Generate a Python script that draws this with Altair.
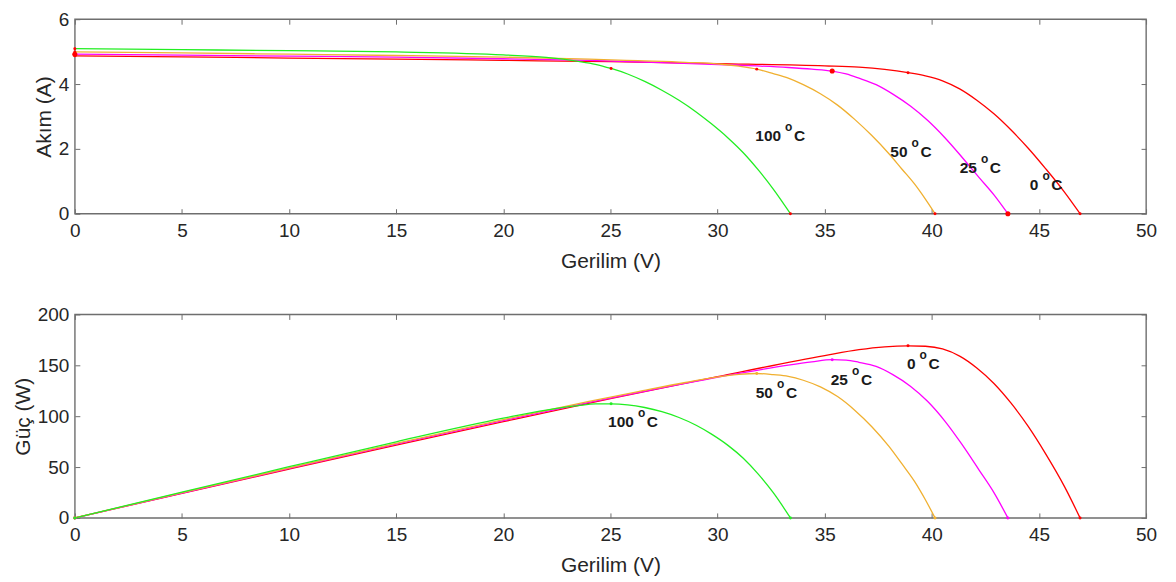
import altair as alt
import pandas as pd

# ---- data (I-V curves at four temperatures) ----
SERIES = ["0 °C", "25 °C", "50 °C", "100 °C"]
COLORS = ["#ff0000", "#ff00ff", "#f0b030", "#22ee22"]
NUMBERS = ["0", "25", "50", "100"]

V_0C = [0, 5, 10, 15, 20, 25, 30, 35, 36.6, 37.8, 38.89, 39.7, 40.5, 41.3, 42.1, 42.9, 43.7, 44.5, 45.3, 46.2, 46.92]
I_0C = [4.87, 4.84, 4.80, 4.77, 4.73, 4.69, 4.63, 4.56, 4.52, 4.45, 4.35, 4.25, 4.10, 3.85, 3.50, 3.08, 2.58, 2.02, 1.40, 0.66, 0.0]

V_25C = [0, 5, 10, 15, 20, 24, 27, 31, 33.3, 34.4, 35.35, 36.0, 36.6, 37.4, 38.2, 39.0, 39.8, 40.6, 41.4, 42.2, 42.9, 43.55]
I_25C = [4.92, 4.89, 4.86, 4.83, 4.78, 4.73, 4.67, 4.58, 4.51, 4.46, 4.40, 4.31, 4.18, 3.98, 3.68, 3.32, 2.88, 2.35, 1.75, 1.12, 0.58, 0.0]

V_50C = [0, 5, 10, 15, 20, 24, 26.3, 28.5, 30.2, 31.0, 31.83, 32.6, 33.3, 34.0, 34.8, 35.6, 36.4, 37.2, 38.0, 38.6, 39.2, 39.7, 40.15]
I_50C = [4.99, 4.96, 4.92, 4.88, 4.83, 4.77, 4.72, 4.67, 4.61, 4.55, 4.46, 4.32, 4.18, 3.98, 3.70, 3.35, 2.91, 2.41, 1.85, 1.38, 0.91, 0.45, 0.0]

V_100C = [0, 5, 10, 15, 20, 22, 23.5, 24.3, 25.03, 25.8, 26.6, 27.4, 28.2, 29.0, 29.7, 30.5, 31.2, 31.9, 32.6, 33.4]
I_100C = [5.09, 5.06, 5.03, 4.99, 4.90, 4.82, 4.70, 4.61, 4.48, 4.31, 4.08, 3.81, 3.50, 3.14, 2.78, 2.33, 1.88, 1.35, 0.76, 0.0]

# maximum power points, open-circuit voltages, short-circuit currents
MPP_V = [38.89, 35.35, 31.83, 25.03]
MPP_I = [4.35, 4.40, 4.46, 4.48]
VOC = [46.92, 43.55, 40.15, 33.4]
ISC = [4.87, 4.92, 4.99, 5.09]

# label anchors (data units, left edge of the "C"): top panel (V, I), bottom panel (V, P)
LAB_TOP_V = [45.58, 42.71, 39.47, 33.57]
LAB_TOP_I = [0.89, 1.40, 1.89, 2.39]
LAB_BOT_V = [39.85, 36.69, 33.19, 26.70]
LAB_BOT_P = [151, 136, 123, 94]

X_TICKS = [0, 5, 10, 15, 20, 25, 30, 35, 40, 45, 50]
I_TICKS = [0, 2, 4, 6]
P_TICKS = [0, 50, 100, 150, 200]

# ---- tables ----
rows = []
for name, vs, cs in zip(SERIES, [V_0C, V_25C, V_50C, V_100C], [I_0C, I_25C, I_50C, I_100C]):
    for v, c in zip(vs, cs):
        rows.append({"T": name, "V": v, "I": c})
curves = pd.DataFrame(rows)

prow = []
for k, name in enumerate(SERIES):
    prow.append({"T": name, "V": MPP_V[k], "I": MPP_I[k]})
    prow.append({"T": name, "V": VOC[k], "I": 0.0})
    prow.append({"T": name, "V": 0.0, "I": ISC[k]})
points = pd.DataFrame(prow)

labs = pd.DataFrame({"T": SERIES, "num": NUMBERS,
                     "VT": LAB_TOP_V, "IT": LAB_TOP_I,
                     "VB": LAB_BOT_V, "PB": LAB_BOT_P})

FONT = "Liberation Sans"
FRAME = "#6e6e6e"
W = 1074

color_scale = alt.Scale(domain=SERIES, range=COLORS)
xs = alt.Scale(domain=[0, 50], nice=False, zero=False)


def panel(ycol, ydom, yticks, ytitle, pts_mode, lab_x, lab_y, calc, H):
    ys = alt.Scale(domain=ydom, nice=False, zero=False)
    base = alt.Chart(curves)
    pbase = alt.Chart(points)
    if calc:
        base = base.transform_calculate(P="datum.V * datum.I")
        pbase = pbase.transform_calculate(P="datum.V * datum.I")

    main_x = alt.Axis(values=X_TICKS, ticks=False, tickSize=0, domain=False, grid=False,
                      labelFlush=False, labelPadding=8, title="Gerilim (V)", titlePadding=10,
                      format="d")
    main_y = alt.Axis(values=yticks, ticks=False, tickSize=0, domain=False, grid=False,
                      labelFlush=False, labelPadding=6, title=ytitle, titlePadding=4,
                      format="d")
    lines = base.mark_line(strokeWidth=1.3, interpolate="monotone").encode(
        x=alt.X("V:Q", scale=xs, axis=main_x),
        y=alt.Y(f"{ycol}:Q", scale=ys, axis=main_y),
        color=alt.Color("T:N", scale=color_scale, legend=None),
        order=alt.Order("V:Q"),
    )

    tk = dict(labels=False, domain=False, grid=False, ticks=True, tickSize=5,
              tickColor=FRAME, tickWidth=1, title=None)
    t1 = base.mark_point(opacity=0).encode(
        x=alt.X("V:Q", scale=xs, axis=alt.Axis(orient="top", offset=-H, values=X_TICKS, **tk)),
        y=alt.Y(f"{ycol}:Q", scale=ys, axis=alt.Axis(orient="right", offset=-W, values=yticks, **tk)),
    )
    t2 = base.mark_point(opacity=0).encode(
        x=alt.X("V:Q", scale=xs, axis=alt.Axis(orient="bottom", offset=-H, values=X_TICKS, **tk)),
        y=alt.Y(f"{ycol}:Q", scale=ys, axis=alt.Axis(orient="left", offset=-W, values=yticks, **tk)),
    )

    if pts_mode == "top":
        dots = pbase.mark_circle(opacity=1, color="#ff0000").encode(
            x=alt.X("V:Q", scale=xs, axis=None),
            y=alt.Y(f"{ycol}:Q", scale=ys, axis=None),
            size=alt.condition(alt.datum.T == "25 °C", alt.value(26), alt.value(9)),
        )
    else:
        dots = pbase.mark_circle(opacity=1, size=9).encode(
            x=alt.X("V:Q", scale=xs, axis=None),
            y=alt.Y(f"{ycol}:Q", scale=ys, axis=None),
            color=alt.Color("T:N", scale=color_scale, legend=None),
        )

    common = dict(font=FONT, fontWeight="bold", color="#1a1a1a", baseline="middle")
    enc = dict(x=alt.X(f"{lab_x}:Q", scale=xs, axis=None),
               y=alt.Y(f"{lab_y}:Q", scale=ys, axis=None))
    lab_num = alt.Chart(labs).mark_text(align="right", dx=-13, fontSize=15.5, **common).encode(
        text="num:N", **enc)
    lab_o = alt.Chart(labs).mark_text(align="left", dx=-9, dy=-9, fontSize=12, text="o",
                                      **common).encode(**enc)
    lab_c = alt.Chart(labs).mark_text(align="left", dx=0, fontSize=15.5, text="C",
                                      **common).encode(**enc)

    return alt.layer(lines, t1, t2, dots, lab_num, lab_o, lab_c).resolve_axis(
        x="independent", y="independent").properties(width=W, height=H)


top = panel("I", [0, 6], I_TICKS, "Akım (A)", "top", "VT", "IT", False, 195)
bottom = panel("P", [0, 200], P_TICKS, "Güç (W)", "bottom", "VB", "PB", True, 204)

chart = alt.vconcat(top, bottom, spacing=101, bounds="flush").properties(
    padding={"left": 3, "top": 0.5, "right": 10, "bottom": 0}
).configure_view(
    stroke=FRAME, strokeWidth=1.4
).configure_axis(
    labelFont=FONT, titleFont=FONT, labelFontSize=19, titleFontSize=21,
    titleFontWeight="normal", labelColor="#262626", titleColor="#262626",
)

chart.save("out.html", embed_options={"renderer": "svg", "actions": False})
